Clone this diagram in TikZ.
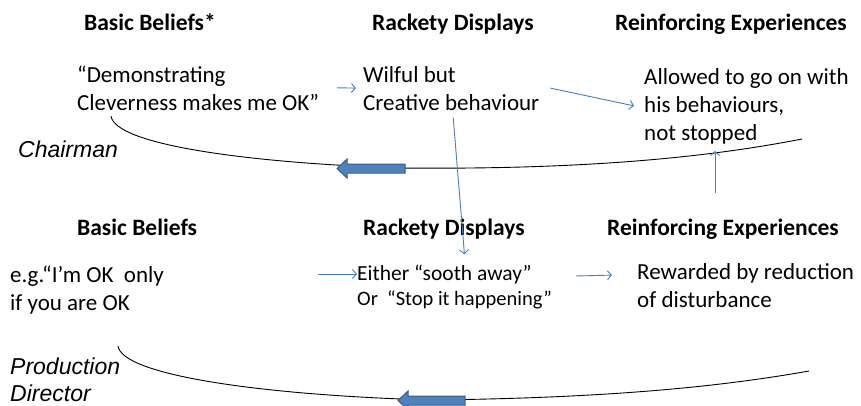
\documentclass[tikz,border=0pt]{standalone}
\usepackage{fontspec}
\setmainfont{Carlito}
\newfontfamily\labelfont{Liberation Sans}
\usetikzlibrary{arrows.meta,calc}

\definecolor{linkblue}{HTML}{4A7EBB}
\definecolor{fatfill}{HTML}{4F81BD}
\definecolor{fatedge}{HTML}{385D8A}

% multi-line nodes are placed by the baseline of their last line
\tikzset{
  heading/.style={anchor=base west, inner sep=0pt, font=\fontsize{23.5}{28}\selectfont\bfseries},
  body/.style={anchor=base west, inner sep=0pt, align=left, font=\fontsize{23}{28}\selectfont},
  smallbody/.style={anchor=base west, inner sep=0pt, align=left, font=\fontsize{20.5}{24}\selectfont},
  role/.style={anchor=base west, inner sep=0pt, align=left, font=\fontsize{23}{27}\selectfont\labelfont\itshape},
  link/.style={draw=linkblue, line width=0.9pt, -{Straight Barb[length=4pt,width=9pt]}},
  cycle/.style={draw=black, line width=0.9pt},
  fatarrow/.style={fill=fatfill, draw=fatedge, line width=1pt, line join=miter}
}

\begin{document}
\begin{tikzpicture}[x=1pt,y=-1pt]
\useasboundingbox (0,0) rectangle (861,405);

% ---- upper row: Chairman ----
\node[heading] (h1a) at (84,30) {Basic Beliefs*};
\node[heading] (h1b) at (372,30) {Rackety Displays};
\node[heading] (h1c) at (615,30) {Reinforcing Experiences};

\node[body] (b1) at (77,110) {“Demonstrating\\Cleverness makes me OK”};
\node[body] (r1) at (363,110) {Wilful but\\Creative behaviour};
\node[body] (e1) at (644,140) {Allowed to go on with\\his behaviours,\\not stopped};

\node[role] (chair) at (18,157) {Chairman};

% ---- lower row: Production Director ----
\node[heading] (h2a) at (77,235) {Basic Beliefs};
\node[heading] (h2b) at (363,235) {Rackety Displays};
\node[heading] (h2c) at (607,235) {Reinforcing Experiences};

\node[body] (b2) at (10,310) {e.g.“I’m OK\ \ only\\if you are OK};
\node[body, font=\fontsize{21.5}{26}\selectfont] (r2) at (357,280) {Either “sooth away”};
\node[smallbody] (r2b) at (357,305) {Or\ \ “Stop it happening”};
\node[body] (e2) at (637,307) {Rewarded by reduction\\of disturbance};

\node[role] (prod) at (10,401) {Production\\Director};

% ---- cycle curves ----
\path[cycle] (111,116) .. controls (115,145) and (250,163) .. (400,168)
             .. controls (600,170) and (720,155) .. (802,139);
\path[cycle] (118,346) .. controls (122,375) and (260,395) .. (430,400)
             .. controls (620,398) and (730,385) .. (809,371);

% ---- thick direction arrows on the curves ----
\path[fatarrow] (405,164) -- (347,164) -- (347,159) -- (337,168.5)
  -- (347,178) -- (347,173) -- (405,173) -- cycle;
\path[fatarrow] (465,396) -- (408,396) -- (408,391) -- (398,400.5)
  -- (408,410) -- (408,405) -- (465,405) -- cycle;

% ---- thin links ----
\coordinate (up1) at (715,193);
\draw[link] ([xshift=18pt]b1.east) -- ([xshift=-7pt]r1.west);
\draw[link] ([xshift=11pt]r1.east) -- ([xshift=-10pt]e1.west);
\draw[link] ([xshift=2pt,yshift=-7pt]r1.south) -- ([xshift=20pt,yshift=10pt]r2.north);
\draw[link] (up1) -- ([xshift=71pt,yshift=-7pt]e1.south west);
\draw[link] ([xshift=-39pt]r2.west) -- (r2.west);
\draw[link] ([xshift=44pt,yshift=-2pt]r2.east) -- ([xshift=-25pt,yshift=10pt]e2.west);
\end{tikzpicture}
\end{document}
